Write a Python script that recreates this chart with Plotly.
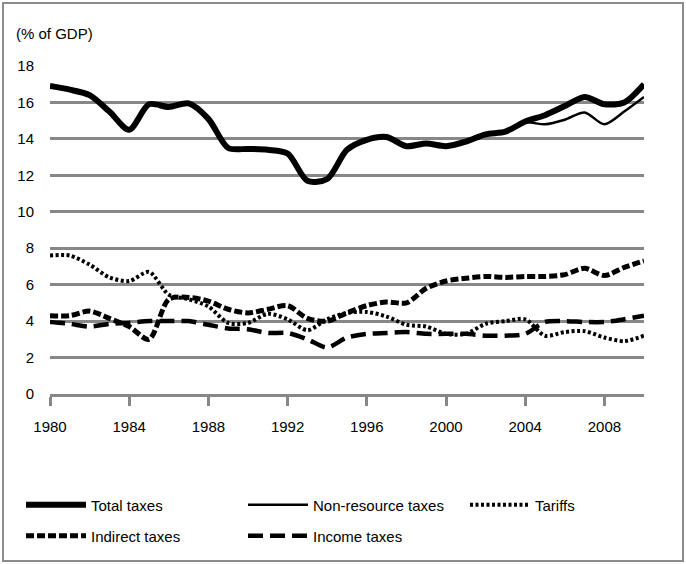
import plotly.graph_objects as go

years = list(range(1980, 2011))

total_taxes = [16.9, 16.7, 16.4, 15.5, 14.5, 15.9, 15.75, 15.95, 15.1, 13.5, 13.45, 13.4, 13.2, 11.7, 11.8,
               13.4, 13.95, 14.1, 13.6, 13.75, 13.6, 13.85, 14.25, 14.4, 14.95, 15.3, 15.8, 16.3, 15.9, 16.0, 17.0]
non_resource_taxes = [16.9, 16.7, 16.4, 15.5, 14.5, 15.9, 15.75, 15.95, 15.1, 13.5, 13.45, 13.4, 13.2, 11.7, 11.8,
                      13.4, 13.95, 14.1, 13.6, 13.75, 13.6, 13.85, 14.25, 14.4, 14.9, 14.8, 15.05, 15.45, 14.8, 15.5, 16.3]
tariffs = [7.6, 7.6, 7.1, 6.4, 6.2, 6.7, 5.45, 5.2, 4.8, 3.9, 3.9, 4.4, 4.1, 3.5, 4.1,
           4.45, 4.5, 4.25, 3.8, 3.7, 3.3, 3.3, 3.85, 4.0, 4.1, 3.2, 3.4, 3.45, 3.1, 2.9, 3.2]
indirect_taxes = [4.3, 4.3, 4.55, 4.15, 3.7, 3.0, 5.2, 5.3, 5.1, 4.65, 4.45, 4.65, 4.85, 4.15, 4.0,
                  4.45, 4.85, 5.05, 5.0, 5.8, 6.2, 6.35, 6.45, 6.4, 6.45, 6.45, 6.55, 6.9, 6.5, 6.95, 7.3]
income_taxes = [3.95, 3.85, 3.7, 3.85, 3.9, 4.0, 4.0, 4.0, 3.8, 3.6, 3.55, 3.35, 3.35, 3.0, 2.55,
                3.1, 3.3, 3.35, 3.4, 3.3, 3.3, 3.3, 3.2, 3.2, 3.3, 3.95, 4.0, 3.95, 3.95, 4.1, 4.3]

series_names = ["Total taxes", "Non-resource taxes", "Tariffs", "Indirect taxes", "Income taxes"]
x_tick_years = list(range(1980, 2009, 4))
y_ticks = list(range(0, 19, 2))

FONT = "Liberation Sans, Arial, sans-serif"
GRID = "#878787"
W, H = 686, 564
ML, MT, MB = 50, 66, 170
PLOT_W = 594             # width of the drawn x axis
GS_W = W - ML            # plotting region (axis domain is a fraction of it)
GS_H = H - MT - MB


def px_x(p):
    return (p - ML) / GS_W


def px_y(p):
    return (H - MB - p) / GS_H


styles = [
    dict(width=6, dash="solid", legend="legend"),
    dict(width=2.5, dash="solid", legend="legend"),
    dict(width=4, dash="3px,2.5px", legend="legend"),
    dict(width=5, dash="8px,3px", legend="legend2"),
    dict(width=4.5, dash="15px,7px", legend="legend2"),
]
values = [total_taxes, non_resource_taxes, tariffs, indirect_taxes, income_taxes]

fig = go.Figure()
for name, vals, st in zip(series_names, values, styles):
    fig.add_trace(go.Scatter(
        x=years, y=vals, name=name, mode="lines", legend=st["legend"],
        line=dict(color="black", width=st["width"], dash=st["dash"], shape="spline", smoothing=0.8),
    ))

legend_common = dict(
    orientation="h", xanchor="left", yanchor="middle",
    entrywidth=147, entrywidthmode="pixels", itemwidth=60,
    font=dict(family=FONT, size=15, color="black"),
    bgcolor="rgba(0,0,0,0)",
)

fig.update_layout(
    width=W, height=H,
    margin=dict(l=ML, r=0, t=MT, b=MB, autoexpand=False),
    paper_bgcolor="white", plot_bgcolor="white",
    font=dict(family=FONT, size=15, color="black"),
    showlegend=True,
    legend=dict(x=px_x(21), y=px_y(505), **legend_common),
    legend2=dict(x=px_x(21), y=px_y(536), **legend_common),
    xaxis=dict(
        domain=[0, PLOT_W / GS_W],
        range=[1980, 2010], tickvals=x_tick_years, ticktext=[str(v) for v in x_tick_years],
        showgrid=False, zeroline=False,
        showline=True, linecolor=GRID, linewidth=3,
        ticks="outside", ticklen=9, tickwidth=2.5, tickcolor=GRID,
        ticklabelstandoff=8,
        tickfont=dict(family=FONT, size=15),
    ),
    yaxis=dict(
        range=[0, 18], tickvals=y_ticks,
        showgrid=True, gridcolor=GRID, gridwidth=3,
        zeroline=False, showline=False, ticks="",
        ticklabelstandoff=15,
        tickfont=dict(family=FONT, size=15),
    ),
    annotations=[dict(
        text="(% of GDP)", xref="paper", yref="paper",
        x=px_x(14), y=px_y(33), xanchor="left", yanchor="middle",
        showarrow=False, font=dict(family=FONT, size=15),
    )],
    shapes=[dict(
        type="rect", xref="paper", yref="paper",
        x0=px_x(3), x1=px_x(683), y0=px_y(561), y1=px_y(3),
        line=dict(color="#8c8c8c", width=2), fillcolor="rgba(0,0,0,0)", layer="below",
    )],
)

fig.write_html("out.html", config={"displayModeBar": False},
               post_script="document.body.style.margin='0';")
